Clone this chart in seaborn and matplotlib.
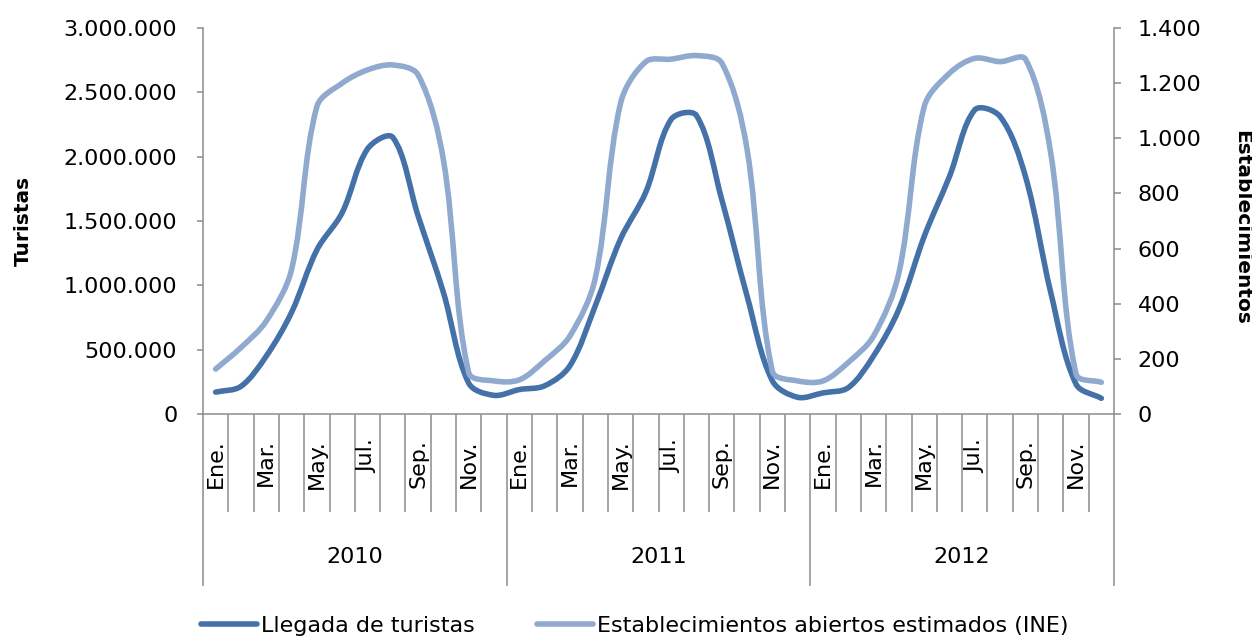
import numpy as np
import pandas as pd
import seaborn as sns
import matplotlib.pyplot as plt
from matplotlib.path import Path
from matplotlib.patches import PathPatch
from matplotlib.lines import Line2D

# ---- data -------------------------------------------------------------
YEARS = ["2010", "2011", "2012"]
# month names shown on alternate months (Ene., Mar., ...)
MONTH_LABELS = ["Ene.", "Mar.", "May.", "Jul.", "Sep.", "Nov."]

# monthly tourist arrivals, Jan 2010 - Dec 2012
TURISTAS = [
    170000, 215000, 450000, 790000, 1275000, 1565000, 2060000, 2150000, 1540000, 945000, 240000, 145000,
    190000, 219000, 375000, 840000, 1360000, 1725000, 2290000, 2320000, 1667000, 917000, 258000, 130000,
    164000, 205000, 452000, 814000, 1380000, 1847000, 2364000, 2312000, 1847000, 945000, 232000, 122000,
]
# estimated open establishments (INE), Jan 2010 - Dec 2012
ESTABLECIMIENTOS = [
    163, 241, 337, 524, 1115, 1200, 1248, 1266, 1230, 922, 150, 120,
    124, 193, 283, 492, 1127, 1278, 1287, 1300, 1273, 960, 155, 120,
    120, 187, 283, 512, 1115, 1236, 1290, 1278, 1287, 946, 145, 115,
]

LEFT_TICKS = [0, 500000, 1000000, 1500000, 2000000, 2500000, 3000000]
LEFT_TICK_LABELS = ["0", "500.000", "1.000.000", "1.500.000", "2.000.000", "2.500.000", "3.000.000"]
RIGHT_TICKS = [0, 200, 400, 600, 800, 1000, 1200, 1400]
RIGHT_TICK_LABELS = ["0", "200", "400", "600", "800", "1.000", "1.200", "1.400"]

SERIES_NAMES = ["Llegada de turistas", "Establecimientos abiertos estimados (INE)"]
AXIS_TITLES = ["Turistas", "Establecimientos"]

# ---- style ------------------------------------------------------------
DARK = "#4571A9"
LIGHT = "#8FA9CF"
GRAY = "#8C8C8C"
LW = 4.0
FS = 16

sns.set_theme(style="white")
plt.rcParams["font.family"] = ["DejaVu Sans"]

n = len(TURISTAS)
df = pd.DataFrame({
    "mes": np.arange(n),
    "turistas": TURISTAS,
    "establecimientos": ESTABLECIMIENTOS,
})

W, H = 1252, 639
fig = plt.figure(figsize=(W / 100, H / 100), dpi=100)
ax = fig.add_axes([203 / W, 1 - 414 / H, (1114 - 203) / W, (414 - 28) / H])
ax2 = ax.twinx()

sns.lineplot(data=df, x="mes", y="turistas", ax=ax, color=DARK, lw=LW, legend=False)
sns.lineplot(data=df, x="mes", y="establecimientos", ax=ax2, color=LIGHT, lw=LW, legend=False)

# ---- axes -------------------------------------------------------------
ax.set_xlim(-0.5, n - 0.5)
ax.set_ylim(0, 3000000)
ax2.set_ylim(0, 1400)
ax.set_xlabel("")
ax.set_ylabel("")
ax2.set_ylabel("")


def smooth(axis, line, tension=1.0 / 3.0):
    """Redraw a polyline as a Bezier curve through the same points.

    Tangent handles are scaled by the neighbouring segment lengths on screen,
    which keeps sharp drops from overshooting.
    """
    to_disp = axis.transData
    pts = to_disp.transform(line.get_xydata())
    m = len(pts)
    seg = np.hypot(*np.diff(pts, axis=0).T)
    handles_out, handles_in = [], []
    for i in range(m):
        prev_p = pts[max(i - 1, 0)]
        next_p = pts[min(i + 1, m - 1)]
        tang = next_p - prev_p
        d_prev = seg[i - 1] if i > 0 else 0.0
        d_next = seg[i] if i < m - 1 else 0.0
        tot = d_prev + d_next
        if tot == 0:
            tot = 1.0
        handles_out.append(pts[i] + tang * tension * d_next / tot)
        handles_in.append(pts[i] - tang * tension * d_prev / tot)
    verts = [pts[0]]
    codes = [Path.MOVETO]
    for i in range(m - 1):
        verts += [handles_out[i], handles_in[i + 1], pts[i + 1]]
        codes += [Path.CURVE4] * 3
    verts = to_disp.inverted().transform(np.array(verts))
    patch = PathPatch(Path(verts, codes), fill=False, edgecolor=line.get_color(),
                      lw=line.get_linewidth(), capstyle="round", joinstyle="round",
                      zorder=line.get_zorder())
    axis.add_patch(patch)
    line.set_visible(False)


smooth(ax, ax.lines[-1])
smooth(ax2, ax2.lines[-1])

for a in (ax, ax2):
    for s in a.spines.values():
        s.set_visible(False)
ax.spines["left"].set_visible(True)
ax.spines["bottom"].set_visible(True)
ax2.spines["right"].set_visible(True)
for s in (ax.spines["left"], ax.spines["bottom"], ax2.spines["right"]):
    s.set_color(GRAY)
    s.set_linewidth(1.1)

ax.set_yticks(LEFT_TICKS)
ax.set_yticklabels(LEFT_TICK_LABELS)
ax2.set_yticks(RIGHT_TICKS)
ax2.set_yticklabels(RIGHT_TICK_LABELS)
ax.tick_params(axis="y", left=True, length=4.5, width=1.1, color=GRAY, pad=14,
               labelsize=FS, labelcolor="black")
ax2.tick_params(axis="y", right=True, length=5, width=1.1, color=GRAY, pad=12,
                labelsize=FS, labelcolor="black")

# category axis: short ticks between months, long ticks between years
ax.set_xticks(np.arange(0, n + 1, 12) - 0.5)
ax.set_xticks(np.arange(n + 1) - 0.5, minor=True)
ax.tick_params(axis="x", which="major", bottom=True, length=124, width=1.1,
               color=GRAY, labelbottom=False)
ax.tick_params(axis="x", which="minor", bottom=True, length=70.5, width=1.1,
               color=GRAY, labelbottom=False)

for i in range(0, n, 2):
    ax.annotate(MONTH_LABELS[(i % 12) // 2], xy=(i, 0), xycoords=("data", "axes fraction"),
                xytext=(0, -18), textcoords="offset points", rotation=90,
                ha="center", va="top", fontsize=FS, color="black")
for k, yr in enumerate(YEARS):
    ax.annotate(yr, xy=(k * 12 + 5.5, 0), xycoords=("data", "axes fraction"),
                xytext=(0, -103), textcoords="offset points",
                ha="center", va="center", fontsize=FS, color="black")

fig.text(23 / W, 1 - 221 / H, AXIS_TITLES[0], rotation=90, ha="center", va="center",
         fontsize=14.5, fontweight="bold", color="black")
fig.text(1242 / W, 1 - 227 / H, AXIS_TITLES[1], rotation=270, ha="center", va="center",
         fontsize=14.5, fontweight="bold", color="black")

handles = [Line2D([], [], color=DARK, lw=LW), Line2D([], [], color=LIGHT, lw=LW)]
fig.legend(handles, SERIES_NAMES, loc="center", bbox_to_anchor=(0.507, 0.02), ncol=2,
           frameon=False, fontsize=FS, handlelength=2.5, handletextpad=0.2,
           columnspacing=2.8, labelcolor="black")

fig.savefig("out.png", dpi=100)
